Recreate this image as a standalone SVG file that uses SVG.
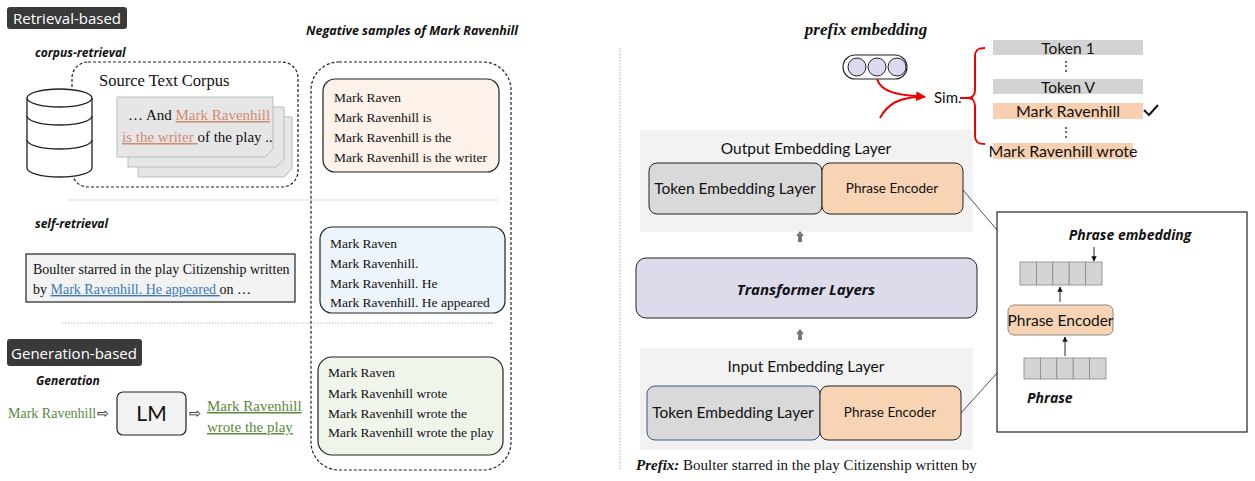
<svg xmlns="http://www.w3.org/2000/svg" width="1255" height="481" viewBox="0 0 1255 481">
<defs>
<style>
.serif{font-family:"Liberation Serif","Times New Roman",serif;fill:#111}
.sans{font-family:Lato,"Liberation Sans",sans-serif;fill:#111}
.bi{font-family:"Open Sans","Liberation Sans",sans-serif;font-weight:bold;font-style:italic;fill:#111}
.badge{fill:#3a3a3a}
.badgeT{font-family:"Open Sans","Liberation Sans",sans-serif;fill:#fff;font-size:15px}
.dash{fill:none;stroke:#222;stroke-width:1.2;stroke-dasharray:3 2}
.sep{stroke:#bbb;stroke-width:1.2;stroke-dasharray:1.5 1.5}
.page{fill:#e6e6e6;stroke:#bbb;stroke-width:1}
.cell{fill:#d4d4d4;stroke:#888;stroke-width:0.8}
.up{fill:#777}
</style>
<marker id="ah" viewBox="0 0 10 10" refX="9" refY="5" markerWidth="6" markerHeight="6" orient="auto"><path d="M0,0L10,5L0,10z" fill="#111"/></marker>
<marker id="ar" viewBox="0 0 10 10" refX="9" refY="5" markerWidth="5" markerHeight="5" orient="auto"><path d="M0,0L10,5L0,10z" fill="#e00"/></marker>
</defs>

<line x1="620" y1="48" x2="620" y2="470" class="sep"/>
<line x1="68" y1="200" x2="500" y2="200" class="sep"/>
<line x1="62" y1="323" x2="493" y2="323" class="sep"/>

<g id="badge-retrieval"><rect x="7" y="7" width="120" height="22" rx="3" class="badge"/><text x="67" y="23.5" text-anchor="middle" class="badgeT">Retrieval-based</text></g>
<text x="412" y="35" text-anchor="middle" class="bi" font-size="12.5">Negative samples of Mark Ravenhill</text>
<text x="35" y="57" class="bi" font-size="12">corpus-retrieval</text>

<g id="corpus">
<rect x="72" y="62" width="226" height="125" rx="16" class="dash"/>
<text x="99" y="86" class="serif" font-size="16.5">Source Text Corpus</text>
<path d="M138,117h154v52l-8,8h-146z" class="page"/>
<path d="M128,107h156v52l-8,8h-148z" class="page"/>
<path d="M117,97h156v52l-8,8h-148z" class="page"/>
<text x="128" y="120" class="serif" font-size="15"><tspan>… And </tspan><tspan style="fill:#d08a70" text-decoration="underline">Mark Ravenhill</tspan></text>
<text x="122" y="142" class="serif" font-size="15"><tspan style="fill:#d08a70" text-decoration="underline">is the writer </tspan><tspan>of  the play ..</tspan></text>
</g>
<g id="database">
<path d="M27,98v70a32.5,9 0 0 0 65,0v-70" fill="#fff" stroke="#222" stroke-width="1.3"/>
<ellipse cx="59.5" cy="98" rx="32.5" ry="9" fill="#fff" stroke="#222" stroke-width="1.3"/>
<path d="M27,116a32.5,9 0 0 0 65,0M27,140a32.5,9 0 0 0 65,0" fill="none" stroke="#222" stroke-width="1.3"/>
</g>

<g id="negatives">
<rect x="311" y="62" width="200" height="408" rx="28" class="dash" stroke-dasharray="6 3"/>
<rect x="323" y="79" width="176" height="93" rx="12" fill="#fdf2ea" stroke="#222" stroke-width="1.2"/>
<text class="serif" font-size="13.5"><tspan x="334" y="102">Mark Raven</tspan><tspan x="334" y="122">Mark Ravenhill is</tspan><tspan x="334" y="142">Mark Ravenhill is the</tspan><tspan x="334" y="162">Mark Ravenhill is the writer</tspan></text>
<rect x="320" y="227" width="185" height="86" rx="12" fill="#eef4fc" stroke="#222" stroke-width="1.2"/>
<text class="serif" font-size="13.5"><tspan x="330" y="248">Mark Raven</tspan><tspan x="330" y="268">Mark Ravenhill.</tspan><tspan x="330" y="288">Mark Ravenhill. He</tspan><tspan x="330" y="307">Mark Ravenhill. He appeared</tspan></text>
<rect x="318" y="357" width="185" height="98" rx="14" fill="#f0f5ec" stroke="#222" stroke-width="1.2"/>
<text class="serif" font-size="13.5"><tspan x="328" y="377">Mark Raven</tspan><tspan x="328" y="398">Mark Ravenhill wrote</tspan><tspan x="328" y="418">Mark Ravenhill wrote the</tspan><tspan x="328" y="437">Mark Ravenhill wrote the play</tspan></text>
</g>

<text x="35" y="228" class="bi" font-size="12">self-retrieval</text>
<g id="self-text">
<rect x="26" y="254" width="269" height="48" fill="#f2f2f2" stroke="#222" stroke-width="1.2"/>
<text x="33" y="274" class="serif" font-size="14">Boulter starred in the play Citizenship written</text>
<text x="33" y="294" class="serif" font-size="14"><tspan>by </tspan><tspan style="fill:#3a78b8" text-decoration="underline">Mark Ravenhill. He appeared </tspan><tspan>on …</tspan></text>
</g>

<g id="badge-generation"><rect x="7" y="339" width="135" height="27" rx="3" class="badge"/><text x="74" y="359" text-anchor="middle" class="badgeT">Generation-based</text></g>
<text x="36" y="385" class="bi" font-size="12">Generation</text>
<g id="generation">
<text x="8" y="418" class="serif" font-size="14" style="fill:#5a8a3c">Mark Ravenhill</text>
<text x="97" y="418" class="sans" font-size="14">⇨</text>
<rect x="117" y="392" width="69" height="43" rx="6" fill="#f2f2f2" stroke="#222" stroke-width="1.2"/>
<text x="151.5" y="421" text-anchor="middle" class="sans" font-size="21">LM</text>
<text x="189" y="418" class="sans" font-size="14">⇨</text>
<text x="207" y="411" class="serif" font-size="15" style="fill:#5a8a3c" text-decoration="underline">Mark Ravenhill</text>
<text x="207" y="432" class="serif" font-size="15" style="fill:#5a8a3c" text-decoration="underline">wrote the play</text>
</g>

<text x="866" y="35" text-anchor="middle" class="serif" font-size="17" font-weight="bold" font-style="italic">prefix embedding</text>
<g id="prefix-emb">
<rect x="843" y="55" width="64" height="24" rx="12" fill="#fff" stroke="#222" stroke-width="1.2"/>
<circle cx="857" cy="67" r="9" fill="#dcdaf0" stroke="#222"/>
<circle cx="877" cy="67" r="9" fill="#dcdaf0" stroke="#222"/>
<circle cx="897" cy="67" r="9" fill="#dcdaf0" stroke="#222"/>
</g>
<text x="934" y="103" class="sans" font-size="15">Sim.</text>

<g id="vocab">
<rect x="993" y="40" width="150" height="15" fill="#d3d3d3"/><text x="1068" y="53.5" text-anchor="middle" class="sans" font-size="15.5">Token 1</text>
<text x="1066" y="70" text-anchor="middle" class="sans" font-size="12">⋮</text>
<rect x="993" y="79" width="150" height="15" fill="#d3d3d3"/><text x="1068" y="92.5" text-anchor="middle" class="sans" font-size="15.5">Token V</text>
<rect x="993" y="103" width="150" height="16" fill="#f8cfb0"/><text x="1068" y="117" text-anchor="middle" class="sans" font-size="16">Mark Ravenhill</text>
<path d="M1144,110l5,5l9,-10" fill="none" stroke="#111" stroke-width="2"/>
<text x="1066" y="136" text-anchor="middle" class="sans" font-size="12">⋮</text>
<rect x="993" y="143" width="140" height="16" fill="#f8cfb0"/><text x="1063" y="157" text-anchor="middle" class="sans" font-size="16">Mark Ravenhill wrote</text>
</g>

<g id="output-layer">
<rect x="640" y="130" width="333" height="102" fill="#f2f2f2"/>
<text x="806" y="154" text-anchor="middle" class="sans" font-size="15.5">Output Embedding Layer</text>
<rect x="649" y="163" width="173" height="51" rx="8" fill="#d9d9d9" stroke="#222"/>
<text x="735" y="194" text-anchor="middle" class="sans" font-size="15.5">Token Embedding Layer</text>
<rect x="822" y="163" width="141" height="51" rx="8" fill="#f8d4b4" stroke="#222"/>
<text x="892" y="193" text-anchor="middle" class="sans" font-size="13.5">Phrase Encoder</text>
</g>
<g id="transformer">
<rect x="636" y="258" width="341" height="60" rx="10" fill="#dddaec" stroke="#222"/>
<text x="806" y="295" text-anchor="middle" class="bi" font-size="15">Transformer Layers</text>
</g>
<g id="input-layer">
<rect x="640" y="348" width="333" height="102" fill="#f2f2f2"/>
<text x="806" y="372" text-anchor="middle" class="sans" font-size="15.5">Input Embedding Layer</text>
<rect x="647" y="386" width="173" height="54" rx="8" fill="#d9d9d9" stroke="#3a5a8a"/>
<text x="733" y="418" text-anchor="middle" class="sans" font-size="15.5">Token Embedding Layer</text>
<rect x="820" y="386" width="141" height="54" rx="8" fill="#f8d4b4" stroke="#222"/>
<text x="890" y="417" text-anchor="middle" class="sans" font-size="13.5">Phrase Encoder</text>
</g>
<text x="636" y="470" class="serif" font-size="15"><tspan font-weight="bold" font-style="italic">Prefix:</tspan><tspan> Boulter starred in the play Citizenship written by</tspan></text>

<g id="inset">
<rect x="997" y="212" width="250" height="220" fill="#fff" stroke="#222" stroke-width="1.2"/>
<text x="1130" y="240" text-anchor="middle" class="bi" font-size="14">Phrase embedding</text>
<g class="cell"><rect x="1020" y="262" width="16.4" height="23"/><rect x="1036.4" y="262" width="16.4" height="23"/><rect x="1052.8" y="262" width="16.4" height="23"/><rect x="1069.2" y="262" width="16.4" height="23"/><rect x="1085.6" y="262" width="16.4" height="23"/></g>
<rect x="1008" y="305" width="105" height="30" rx="6" fill="#f8d4b4" stroke="#888"/>
<text x="1060.5" y="326" text-anchor="middle" class="sans" font-size="15.5">Phrase Encoder</text>
<g class="cell"><rect x="1024" y="358" width="16.4" height="21"/><rect x="1040.4" y="358" width="16.4" height="21"/><rect x="1056.8" y="358" width="16.4" height="21"/><rect x="1073.2" y="358" width="16.4" height="21"/><rect x="1089.6" y="358" width="16.4" height="21"/></g>
<text x="1027" y="403" class="bi" font-size="14">Phrase</text>
</g>

<g id="connectors" fill="none">
<path d="M877,79C882,95 905,95 925,97" stroke="#e00" stroke-width="2" marker-end="url(#ar)"/>
<path d="M880,118C888,103 900,98 918,97" stroke="#e00" stroke-width="2"/>
<path d="M960,98H973M985,48C978,48 975,50 975,56V90C975,95 972,98 968,98C972,98 975,101 975,106V136C975,142 978,144 985,144" stroke="#e00" stroke-width="2"/>
<line x1="963" y1="190" x2="997" y2="230" stroke="#222" stroke-width="0.8"/>
<line x1="961" y1="413" x2="997" y2="373" stroke="#222" stroke-width="0.8"/>
<line x1="1094" y1="247" x2="1094" y2="261" stroke="#111" stroke-width="0.9" marker-end="url(#ah)"/>
<line x1="1060" y1="302" x2="1060" y2="287" stroke="#111" stroke-width="0.9" marker-end="url(#ah)"/>
<line x1="1065" y1="356" x2="1065" y2="337" stroke="#111" stroke-width="0.9" marker-end="url(#ah)"/>
<path d="M798,242v-6h-2l4,-5l4,5h-2v6z" class="up"/>
<path d="M798,340v-6h-2l4,-5l4,5h-2v6z" class="up"/>
</g>
</svg>
